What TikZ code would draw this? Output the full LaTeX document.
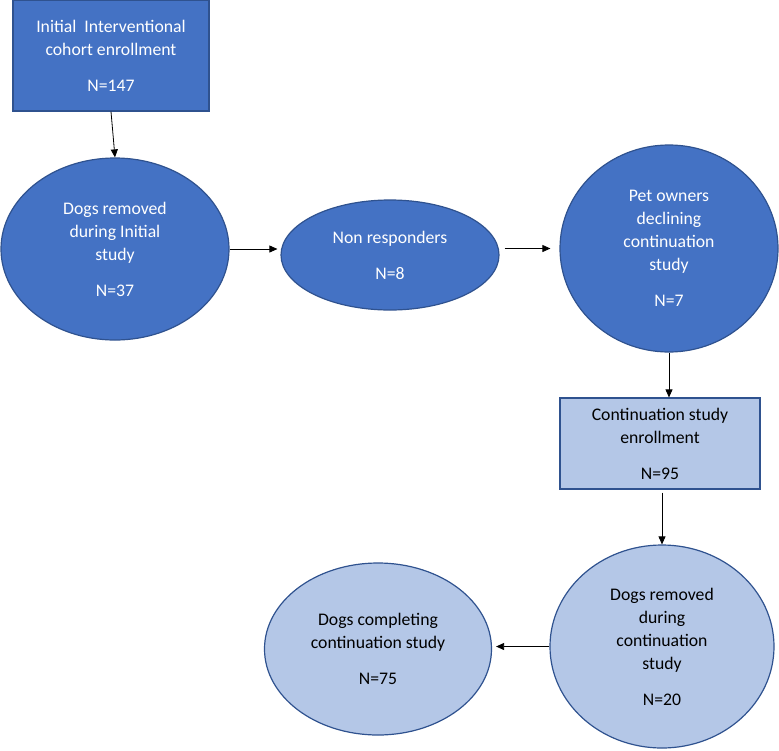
\documentclass[tikz,border=0pt]{standalone}
\usepackage{fontspec}
\setmainfont{Carlito}
\usepackage{tikz}
\usetikzlibrary{shapes.geometric,arrows.meta,positioning,calc}

\definecolor{darkfill}{HTML}{4472C4}
\definecolor{lightfill}{HTML}{B4C7E7}
\definecolor{edgeblue}{HTML}{2F528F}

\begin{document}
\begin{tikzpicture}[
    x=1pt, y=-1pt,
    base/.style={draw=edgeblue, line width=1.2pt, align=center, inner sep=0pt, font=\fontsize{17.7}{23}\selectfont},
    darkbox/.style={base, rectangle, fill=darkfill, text=white},
    lightbox/.style={base, rectangle, fill=lightfill, text=black},
    darkoval/.style={base, ellipse, fill=darkfill, text=white},
    lightoval/.style={base, ellipse, fill=lightfill, text=black},
    arrow/.style={-{Triangle[length=8pt,width=7pt]}, line width=0.8pt}
]
\useasboundingbox (0,0) rectangle (779,750);
\node[darkbox, minimum width=196pt, minimum height=111pt] (init) at (111,55.5) {Initial\ \ Interventional\\cohort enrollment\\[13pt]N=147};
\node[darkoval, minimum width=228pt, minimum height=182pt] (remInit) at (115,249) {Dogs removed\\during Initial\\study\\[13pt]N=37};
\node[darkoval, minimum width=218pt, minimum height=110pt] (nonResp) at (390,255) {Non responders\\[13pt]N=8};
\node[darkoval, minimum width=218pt, minimum height=207pt] (declined) at (669,248.5) {Pet owners\\declining\\continuation\\study\\[13pt]N=7};
\node[lightbox, minimum width=200pt, minimum height=91pt] (contEnroll) at (660,443.5) {Continuation study\\enrollment\\[13pt]N=95};
\node[lightoval, minimum width=224pt, minimum height=203pt] (remCont) at (662,646.5) {Dogs removed\\during\\continuation\\study\\[13pt]N=20};
\node[lightoval, minimum width=227pt, minimum height=172pt] (completed) at (378,649) {Dogs completing\\continuation study\\[13pt]N=75};

\draw[arrow] (init.south) -- (remInit.north);
\draw[arrow, shorten >=3pt] (remInit.east) -- (remInit.east -| nonResp.west);
\draw[arrow, shorten <=5pt, shorten >=9pt] (declined.west -| nonResp.east) -- (declined.west);
\draw[arrow] (declined.south) -- (declined.south |- contEnroll.north);
\draw[arrow, shorten <=3pt] (contEnroll.south -| remCont.north) -- (remCont.north);
\draw[arrow, shorten >=4pt] (remCont.west) -- (remCont.west -| completed.east);
\end{tikzpicture}
\end{document}
